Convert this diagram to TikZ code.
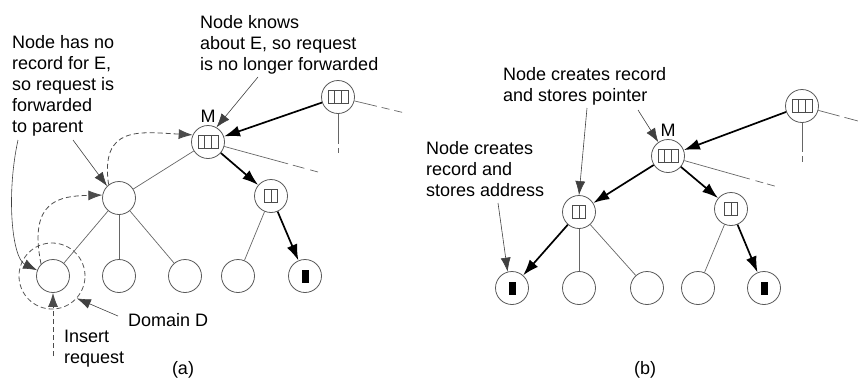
\documentclass[tikz,border=0pt]{standalone}
\usepackage{fontspec}
\setmainfont{Liberation Sans}
\usetikzlibrary{arrows.meta}
\begin{document}
\begin{tikzpicture}[x=1pt,y=-1pt,
  nd/.style={circle,draw=black!65,line width=0.8pt,minimum size=33pt,inner sep=0pt},
  boxline/.style={draw=black!70,line width=0.7pt},
  rthree/.style={path picture={
    \draw[boxline] ([shift={(-10pt,-6.5pt)}]path picture bounding box.center) rectangle ([shift={(10pt,6.5pt)}]path picture bounding box.center);
    \draw[boxline] ([shift={(-3.3pt,-6.5pt)}]path picture bounding box.center) -- ([shift={(-3.3pt,6.5pt)}]path picture bounding box.center);
    \draw[boxline] ([shift={(3.3pt,-6.5pt)}]path picture bounding box.center) -- ([shift={(3.3pt,6.5pt)}]path picture bounding box.center);}},
  rtwo/.style={path picture={
    \draw[boxline] ([shift={(-6.5pt,-6.5pt)}]path picture bounding box.center) rectangle ([shift={(6.5pt,6.5pt)}]path picture bounding box.center);
    \draw[boxline] ([shift={(0pt,-6.5pt)}]path picture bounding box.center) -- ([shift={(0pt,6.5pt)}]path picture bounding box.center);}},
  rblk/.style={path picture={
    \fill[black] ([shift={(-3.5pt,-6.5pt)}]path picture bounding box.center) rectangle ([shift={(3.5pt,6.5pt)}]path picture bounding box.center);}},
  domc/.style={circle,draw=black!65,dashed,dash pattern=on 5pt off 3pt,line width=0.8pt,minimum size=66pt,inner sep=0pt},
  thinedge/.style={draw=black!60,line width=0.7pt},
  thickarr/.style={draw=black,line width=1.7pt,-{Latex[length=16pt,width=11pt]}},
  ann/.style={draw=black!75,line width=0.6pt,-{Latex[length=14pt,width=10pt]}},
  dsh/.style={draw=black!70,line width=0.8pt,dash pattern=on 5pt off 3pt,-{Latex[length=14pt,width=10pt]}},
  fade/.style={draw=black!60,line width=0.7pt},
  txt/.style={font=\fontsize{18}{21}\selectfont,align=left,inner sep=0pt,anchor=north west,text=black},
  lab/.style={font=\fontsize{18}{21}\selectfont,inner sep=0pt,text=black}
]
\useasboundingbox (0,0) rectangle (858,378);

% ---------------- (a) ----------------
\node[nd,rthree] (Ma) at (208,142) {};
\node[nd,rthree] (Ta) at (338,97) {};
\node[nd] (Pa) at (119,198) {};
\node[nd,rtwo] (Ra) at (271,196) {};
\node[nd] (La) at (53,276) {};
\node[nd] (Lb) at (119,276) {};
\node[nd] (Lc) at (185,276) {};
\node[nd] (Ld) at (238,276) {};
\node[nd,rblk] (Le) at (305,276) {};
\node[domc] (Da) at (52,276) {};
\node[lab] (mla) at (208,116) {M};

\draw[thinedge] (Ma) -- (Pa);
\draw[thinedge] (Pa) -- (La);
\draw[thinedge] (Pa) -- (Lb);
\draw[thinedge] (Pa) -- (Lc);
\draw[thinedge] (Ra) -- (Ld);
\draw[thickarr] (Ta) -- (Ma);
\draw[thickarr] (Ma) -- (Ra);
\draw[thickarr] (Ra) -- (Le);

\coordinate (fa1) at (405,113);
\coordinate (fa2) at (338,153);
\coordinate (fa3) at (318,172);
\draw[fade,dash pattern=on 23pt off 5pt on 8pt off 5pt on 8pt off 50pt] (Ta) -- (fa1);
\draw[fade,dash pattern=on 30pt off 4pt on 6pt off 50pt] (Ta) -- (fa2);
\draw[fade,dash pattern=on 66pt off 5pt on 12pt off 6pt on 9pt off 50pt] (Ma) -- (fa3);

\draw[dsh] (La.135) .. controls (28,200) and (60,196) .. (Pa.170);
\draw[dsh] (Pa.128) .. controls (100,125) and (140,132) .. (Ma.155);

\node[txt] (t1) at (12,35.4) {Node has no\\record for E,\\so request is\\forwarded\\to parent};
\node[txt] (t2) at (200,15.4) {Node knows\\about E, so request\\is no longer forwarded};
\node[txt] (t3) at (128,313.4) {Domain D};
\node[txt] (t4) at (64,330.4) {Insert\\request};
\node[lab] (ta) at (183,370) {(a)};

\coordinate (q1) at (73,140);
\coordinate (q2) at (18,140);
\coordinate (q3) at (258,77);
\coordinate (q4) at (118,316);
\coordinate (q5) at (53,356);
\draw[ann] (q1) -- (Pa.135);
\draw[ann] (q2) .. controls (6,195) and (12,258) .. (La.160);
\draw[ann] (q3) -- (Ma.60);
\draw[ann] (q4) -- (Da.-42);
\draw[dsh] (q5) -- (La.south);

% ---------------- (b) ----------------
\node[nd,rthree] (Mb) at (668,156) {};
\node[nd,rthree] (Tb) at (802,106) {};
\node[nd,rtwo] (Pb) at (579,212) {};
\node[nd,rtwo] (Rb) at (731,209) {};
\node[nd,rblk] (B1) at (512,288) {};
\node[nd] (B2) at (579,288) {};
\node[nd] (B3) at (647,288) {};
\node[nd] (B4) at (698,288) {};
\node[nd,rblk] (B5) at (764,288) {};
\node[lab] (mlb) at (668,130) {M};

\draw[thinedge] (Pb) -- (B2);
\draw[thinedge] (Pb) -- (B3);
\draw[thinedge] (Rb) -- (B4);
\draw[thickarr] (Tb) -- (Mb);
\draw[thickarr] (Mb) -- (Pb);
\draw[thickarr] (Mb) -- (Rb);
\draw[thickarr] (Pb) -- (B1);
\draw[thickarr] (Rb) -- (B5);

\coordinate (fb1) at (858,121);
\coordinate (fb2) at (802,163);
\coordinate (fb3) at (778,187);
\draw[fade,dash pattern=on 22pt off 5pt on 20pt off 50pt] (Tb) -- (fb1);
\draw[fade,dash pattern=on 29pt off 4pt on 6pt off 50pt] (Tb) -- (fb2);
\draw[fade,dash pattern=on 68pt off 6pt on 8pt off 4pt on 8pt off 50pt] (Mb) -- (fb3);

\node[txt] (t5) at (503,67.4) {Node creates record\\and stores pointer};
\node[txt] (t6) at (426,141.4) {Node creates\\record and\\stores address};
\node[lab] (tb) at (645,370) {(b)};

\coordinate (p1) at (587,108);
\coordinate (p2) at (638,110);
\coordinate (p3) at (498,203);
\draw[ann] (p1) -- (Pb.north);
\draw[ann] (p2) -- (Mb.125);
\draw[ann] (p3) -- (B1.105);
\end{tikzpicture}
\end{document}
